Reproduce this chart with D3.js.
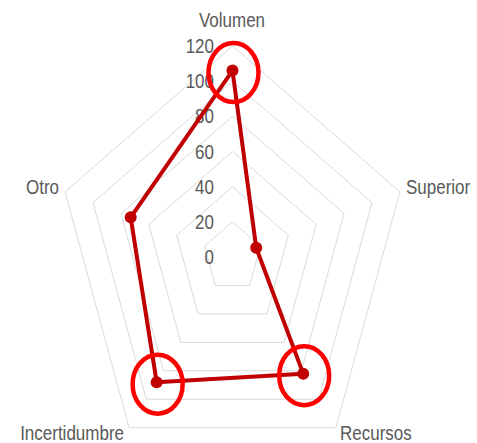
<!DOCTYPE html>
<html>
<head>
<meta charset="utf-8">
<script src="https://cdn.jsdelivr.net/npm/d3@7"></script>
<style>
  html, body { margin:0; padding:0; background:#fff; }
  svg text { font-family: "Liberation Sans", Arial, sans-serif; fill:#595959; font-size:17px; }
</style>
</head>
<body>
<svg id="chart" width="477" height="443"></svg>
<script>
// categorías del radar, en sentido horario desde arriba
const CATEGORIES = ['Volumen', 'Superior', 'Recursos', 'Incertidumbre', 'Otro'];
const VALUES     = [106, 17, 82, 88, 73];
const TICKS      = [0, 20, 40, 60, 80, 100, 120];
// puntos marcados con círculo rojo
const HIGHLIGHT  = ['Volumen', 'Recursos', 'Incertidumbre'];

const cx = 232.5, cy = 257;
const SY = 1.18; // el original está estirado en vertical (texto incluido)
const rX = d3.scaleLinear().domain([0, 120]).range([0, 176]);
const rY = d3.scaleLinear().domain([0, 120]).range([0, 211]);
const ang = d3.scalePoint().domain(CATEGORIES.concat(['_'])).range([0, 2 * Math.PI]);

const px = (c, v) => cx + rX(v) * Math.sin(ang(c));
const py = (c, v) => cy - rY(v) * Math.cos(ang(c));

const svg = d3.select('#chart');
const g = svg.append('g');

// anillos
const ring = v => CATEGORIES.map(c => [px(c, v), py(c, v)]);
g.append('g').selectAll('polygon').data(TICKS.filter(t => t > 0)).join('polygon')
  .attr('points', d => ring(d).map(p => p.join(',')).join(' '))
  .attr('fill', 'none').attr('stroke', '#d9d9d9').attr('stroke-width', 1);

// etiquetas del eje
g.append('g').selectAll('text').data(TICKS).join('text')
  .attr('transform', d => `translate(214,${cy - rY(d) + 7}) scale(1,${SY})`)
  .attr('text-anchor', 'end')
  .text(d => d);

// serie
const pts = CATEGORIES.map((c, i) => [px(c, VALUES[i]), py(c, VALUES[i])]);
g.append('path')
  .attr('d', d3.line().curve(d3.curveLinearClosed)(pts))
  .attr('fill', 'none').attr('stroke', '#c00000').attr('stroke-width', 4)
  .attr('stroke-linejoin', 'round');
g.append('g').selectAll('circle').data(pts).join('circle')
  .attr('cx', d => d[0]).attr('cy', d => d[1]).attr('r', 6)
  .attr('fill', '#c00000');

// etiquetas de categoría (x, línea base)
const LABEL_POS = {
  'Volumen':       {x: 232, y: 27,  a: 'middle'},
  'Superior':      {x: 406, y: 194, a: 'start'},
  'Recursos':      {x: 340, y: 440, a: 'start'},
  'Incertidumbre': {x: 124, y: 440, a: 'end'},
  'Otro':          {x: 59,  y: 194, a: 'end'},
};
g.append('g').selectAll('text').data(CATEGORIES).join('text')
  .attr('transform', d => `translate(${LABEL_POS[d].x},${LABEL_POS[d].y}) scale(1,${SY})`)
  .attr('text-anchor', d => LABEL_POS[d].a)
  .text(d => d);

// círculos rojos de resalte
g.append('g').selectAll('ellipse').data(HIGHLIGHT).join('ellipse')
  .attr('cx', d => px(d, VALUES[CATEGORIES.indexOf(d)]) + 1)
  .attr('cy', d => py(d, VALUES[CATEGORIES.indexOf(d)]) + 2)
  .attr('rx', 25).attr('ry', 29.5)
  .attr('fill', 'none').attr('stroke', '#ff0000').attr('stroke-width', 4.5);
</script>
</body>
</html>
